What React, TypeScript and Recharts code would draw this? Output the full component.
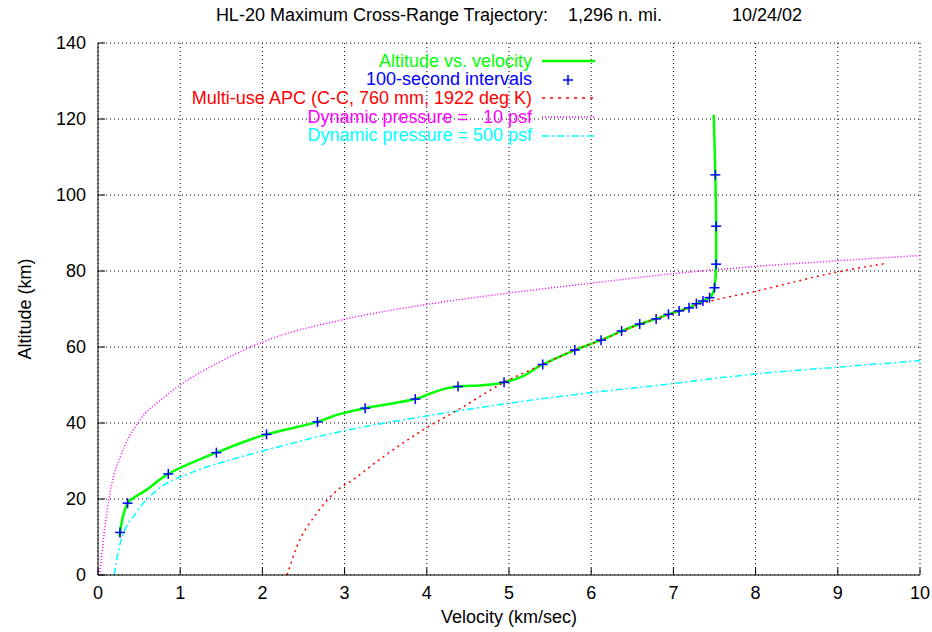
import { ComposedChart, Line, Scatter, XAxis, YAxis, CartesianGrid } from 'recharts';

// 100-second interval points along the trajectory
const markerVel = [0.268, 0.36, 0.855, 1.44, 2.05, 2.67, 3.25, 3.86, 4.38, 4.94, 5.41, 5.8, 6.12, 6.37, 6.59, 6.79, 6.94, 7.07, 7.19, 7.28, 7.36, 7.44, 7.5, 7.52, 7.52, 7.51];
const markerAlt = [11.2, 18.9, 26.6, 32.2, 37.0, 40.3, 43.9, 46.3, 49.6, 50.7, 55.4, 59.2, 61.8, 64.2, 66.05, 67.4, 68.6, 69.5, 70.3, 71.4, 72.1, 73.0, 75.6, 81.8, 91.8, 105.3];

// altitude vs velocity trace (ordered by altitude)
const traceVel = [0.26, 0.268, 0.36, 0.59, 0.855, 1.44, 2.05, 2.67, 2.95, 3.25, 3.86, 4.1, 4.38, 4.65, 4.94, 5.41, 5.8, 6.12, 6.37, 6.59, 6.79, 6.94, 7.07, 7.19, 7.28, 7.36, 7.44, 7.5, 7.52, 7.52, 7.51, 7.49];
const traceAlt = [10.1, 11.2, 18.9, 22.4, 26.6, 32.2, 37.0, 40.3, 42.4, 43.9, 46.3, 48.2, 49.6, 49.9, 50.7, 55.4, 59.2, 61.8, 64.2, 66.05, 67.4, 68.6, 69.5, 70.3, 71.4, 72.1, 73.0, 75.6, 81.8, 91.8, 105.3, 121.1];

const apcVel = [2.3, 2.42, 2.66, 2.94, 3.07, 3.47, 4.01, 4.36, 4.94, 5.41, 5.8, 6.12, 6.59, 7.0, 7.32, 8.01, 9.01, 9.59];
const apcAlt = [0, 7.5, 16.2, 22.8, 24.6, 31.1, 38.9, 43.2, 50.7, 55.4, 59.2, 61.8, 66.0, 68.9, 71.3, 74.7, 79.8, 82.0];

const q10Vel = [0.02, 0.045, 0.085, 0.167, 0.27, 0.51, 0.77, 1, 1.5, 2, 3, 4, 5, 6, 7, 8, 9, 10];
const q10Alt = [0, 5, 12.7, 24, 31, 40.8, 46.2, 50, 56.3, 61.3, 67.3, 71.2, 74.2, 76.8, 79.3, 81.2, 82.7, 84.1];

const q500Vel = [0.195, 0.27, 0.47, 0.71, 1.12, 1.61, 2.05, 2.94, 4.01, 5.0, 6.0, 6.72, 8, 9, 10];
const q500Alt = [0, 8.3, 16.6, 22.2, 26.8, 30.3, 32.9, 37.7, 41.9, 45.2, 48.0, 49.7, 52.9, 54.7, 56.4];

const velTicks = [0, 1, 2, 3, 4, 5, 6, 7, 8, 9, 10];
const altTicks = [0, 20, 40, 60, 80, 100, 120, 140];

const toPoints = (vel: number[], alt: number[]) => vel.map((v, i) => ({ v, alt: alt[i] }));

const legendItems = [
  { label: 'Altitude vs. velocity', color: '#00ff00', kind: 'line', dash: undefined, width: 2.5 },
  { label: '100-second intervals', color: '#0000ff', kind: 'plus', dash: undefined, width: 1.5 },
  { label: 'Multi-use APC (C-C, 760 mm, 1922 deg K)', color: '#ff0000', kind: 'line', dash: '3 5', width: 1.5 },
  { label: 'Dynamic pressure =   10 psf', color: '#ff00ff', kind: 'line', dash: '1 2', width: 1.5 },
  { label: 'Dynamic pressure = 500 psf', color: '#00ffff', kind: 'line', dash: '7 3 2 3', width: 1.5 },
];

const FONT = '"Liberation Sans", Arial, sans-serif';
const FS = 18;
const TICK_LEN = 7;

const BottomTick = ({ x, y, payload }: any) => (
  <g>
    <line x1={x} y1={y} x2={x} y2={y - TICK_LEN} stroke="#000" />
    <text x={x} y={y + 24} textAnchor="middle" fontSize={FS} fontFamily={FONT} fill="#000">{payload.value}</text>
  </g>
);
const TopTick = ({ x, y }: any) => <line x1={x} y1={y} x2={x} y2={y + TICK_LEN} stroke="#000" />;
const LeftTick = ({ x, y, payload }: any) => (
  <g>
    <line x1={x} y1={y} x2={x + TICK_LEN} y2={y} stroke="#000" />
    <text x={x - 12} y={y + 6} textAnchor="end" fontSize={FS} fontFamily={FONT} fill="#000">{payload.value}</text>
  </g>
);
const RightTick = ({ x, y }: any) => <line x1={x} y1={y} x2={x - TICK_LEN} y2={y} stroke="#000" />;

const Plus = ({ cx, cy }: any) => (
  <g stroke="#0000ff" strokeWidth={1.5}>
    <line x1={cx - 5} y1={cy} x2={cx + 5} y2={cy} />
    <line x1={cx} y1={cy - 5} x2={cx} y2={cy + 5} />
  </g>
);

export default function App() {
  return (
    <div style={{ position: 'absolute', left: 0, top: 0, width: 932, height: 632, background: '#fff', fontFamily: FONT }}>
      <ComposedChart width={932} height={632} margin={{ top: 43, right: 12, bottom: 27, left: 38 }}>
        <CartesianGrid stroke="#000" strokeDasharray="1 3" horizontalValues={altTicks} verticalValues={velTicks} />
        <XAxis type="number" dataKey="v" domain={[0, 10]} ticks={velTicks} interval={0} height={30}
          tickSize={0} tickMargin={0} tick={<BottomTick />} stroke="#000" allowDataOverflow />
        <XAxis xAxisId="top" orientation="top" type="number" dataKey="v" domain={[0, 10]} ticks={velTicks} interval={0} height={0}
          tickSize={0} tickMargin={0} tick={<TopTick />} stroke="#000" />
        <YAxis type="number" dataKey="alt" domain={[0, 140]} ticks={altTicks} interval={0} width={60}
          tickSize={0} tickMargin={0} tick={<LeftTick />} stroke="#000" allowDataOverflow />
        <YAxis yAxisId="right" orientation="right" type="number" dataKey="alt" domain={[0, 140]} ticks={altTicks} interval={0} width={0}
          tickSize={0} tickMargin={0} tick={<RightTick />} stroke="#000" />
        <Line data={toPoints(q10Vel, q10Alt)} dataKey="alt" type="monotone" stroke="#ff00ff" strokeWidth={1.5}
          strokeDasharray="1 2" dot={false} activeDot={false} isAnimationActive={false} />
        <Line data={toPoints(q500Vel, q500Alt)} dataKey="alt" type="monotone" stroke="#00ffff" strokeWidth={1.5}
          strokeDasharray="7 3 2 3" dot={false} activeDot={false} isAnimationActive={false} />
        <Line data={toPoints(traceVel, traceAlt)} dataKey="alt" type="monotoneY" stroke="#00ff00" strokeWidth={2.5}
          dot={false} activeDot={false} isAnimationActive={false} />
        <Line data={toPoints(apcVel, apcAlt)} dataKey="alt" type="monotone" stroke="#ff0000" strokeWidth={1.5}
          strokeDasharray="2 4" dot={false} activeDot={false} isAnimationActive={false} />
        <Scatter data={toPoints(markerVel, markerAlt)} dataKey="alt" shape={<Plus />} isAnimationActive={false} />
      </ComposedChart>

      <div style={{ position: 'absolute', left: 0, width: 1018, top: 5, textAlign: 'center', fontSize: FS, whiteSpace: 'pre' }}>
        {'HL-20 Maximum Cross-Range Trajectory:    1,296 n. mi.              10/24/02'}
      </div>
      <div style={{ position: 'absolute', left: 0, width: 1018, top: 607, textAlign: 'center', fontSize: FS }}>
        Velocity (km/sec)
      </div>
      <div style={{ position: 'absolute', left: 25, top: 309, fontSize: FS, whiteSpace: 'nowrap', transform: 'translate(-50%, -50%) rotate(-90deg)' }}>
        Altitude (km)
      </div>

      <div style={{ position: 'absolute', left: 100, top: 52, width: 495 }}>
        {legendItems.map((item) => (
          <div key={item.label} style={{ display: 'flex', alignItems: 'center', justifyContent: 'flex-end', height: 18.6 }}>
            <span style={{ color: item.color, fontSize: FS, whiteSpace: 'pre', marginRight: 10 }}>{item.label}</span>
            <svg width={53} height={12}>
              {item.kind === 'plus' ? (
                <g stroke={item.color} strokeWidth={1.5}>
                  <line x1={21} y1={6} x2={31} y2={6} />
                  <line x1={26} y1={1} x2={26} y2={11} />
                </g>
              ) : (
                <line x1={0} y1={6} x2={53} y2={6} stroke={item.color} strokeWidth={item.width} strokeDasharray={item.dash} />
              )}
            </svg>
          </div>
        ))}
      </div>
    </div>
  );
}
